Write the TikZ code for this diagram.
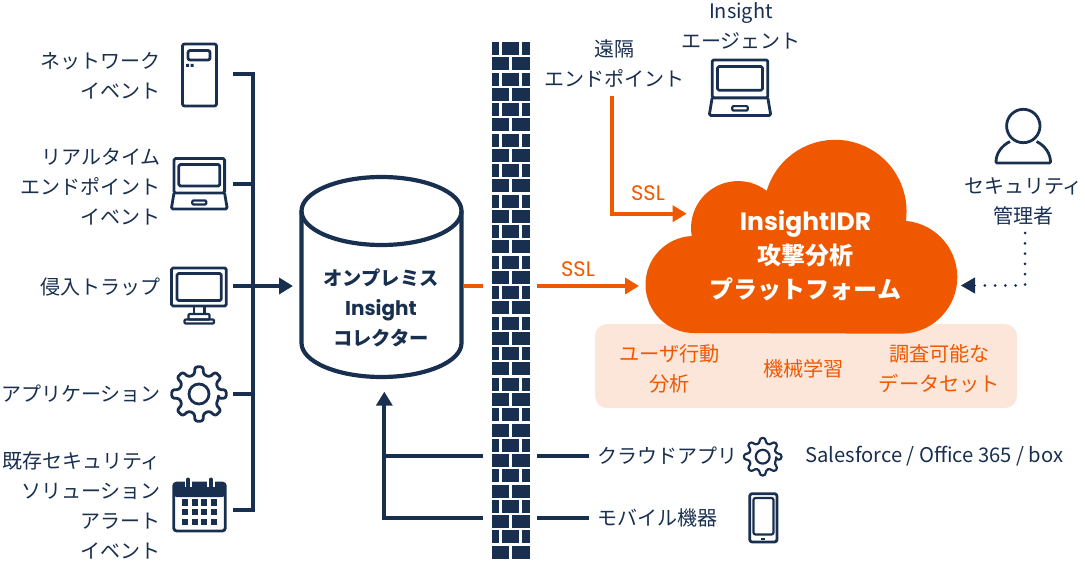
\documentclass[tikz,border=0pt]{standalone}
\usepackage{fontspec}
\usepackage{xcolor}
\usetikzlibrary{arrows.meta}
\setmainfont{Noto Sans CJK JP}
\newfontfamily\latinfont{Poppins}
\definecolor{navy}{HTML}{192F4F}
\definecolor{flame}{HTML}{F05800}
\definecolor{peach}{HTML}{FCE5D9}

\tikzset{
  iconline/.style = {draw=navy, line width=2.8pt, line join=round, rounded corners=1.5pt},
  thinline/.style = {draw=navy, line width=2.2pt, line join=round, rounded corners=1pt},
  wire/.style = {draw=navy, line width=4pt},
  hotwire/.style = {draw=flame, line width=4pt},
  label/.style = {text=navy, inner sep=0pt, align=center, font=\fontsize{20}{30}\selectfont},
  leftlabel/.style = {label, align=right, anchor=east},
  hotlabel/.style = {label, text=flame, font=\fontsize{20.2}{30}\selectfont},
  ssl/.style = {text=flame, inner sep=0pt, font=\latinfont\fontsize{21}{24}\selectfont},
  pics/laptop/.style = {code={
    \draw[iconline] (-25.3,-1.5) rectangle (25.3,-36);
    \draw[iconline] (-20.5,-7.5) rectangle (20.5,-29);
    \draw[iconline] (-25.3,-36) -- (-28,-52) -- (28,-52) -- (25.3,-36);
    \draw[thinline] (-7,-43.5) rectangle (7,-47.5);
  }},
  pics/gear/.style = {code={
    \draw[iconline, rounded corners=2.5pt] (-13:20)
      foreach \a in {0,45,...,315} {
        -- (\a-13:20) -- (\a-8.5:27.5) -- (\a+8.5:27.5) -- (\a+13:20)
      } -- cycle;
    \draw[iconline] (0,0) circle (10);
  }}
}

\begin{document}
\begin{tikzpicture}[x=1pt, y=1pt, >={Triangle[length=14pt,width=16pt]}]
  \useasboundingbox (0,0) rectangle (1085,-580);

  % left column
  \node[leftlabel] (netlabel) at (161,-76) {ネットワーク\\イベント};
  \node[leftlabel] (rtlabel) at (161,-187) {リアルタイム\\エンドポイント\\イベント};
  \node[leftlabel] (traplabel) at (161,-286.5) {侵入トラップ};
  \node[leftlabel] (applabel) at (161,-393.5) {アプリケーション};
  \node[leftlabel] (siemlabel) at (161,-505.5) {既存セキュリティ\\ソリューション\\アラート\\イベント};

  % server
  \draw[iconline, rounded corners=2pt] (182.5,-44) rectangle (216.5,-106);
  \draw[iconline, rounded corners=2pt] (188,-50.5) rectangle (210,-60);
  \fill[navy] (186,-64) rectangle (189,-67) (190.5,-64) rectangle (193.5,-67);
  % laptop
  \pic at (199.3,-157) {laptop};
  % monitor
  \draw[iconline] (171.5,-268) rectangle (226.3,-306);
  \draw[iconline] (177,-273.5) rectangle (221.3,-300.5);
  \draw[thinline] (194,-306) -- (194,-314) (204.5,-306) -- (204.5,-314);
  \draw[thinline] (188.5,-314) rectangle (209.5,-319.5);
  \draw[thinline] (184.5,-319.5) rectangle (214,-323.5);
  % gear
  \pic at (199,-394) {gear};
  % calendar
  \draw[iconline, rounded corners=3pt] (173.7,-483) rectangle (225.3,-531);
  \fill[navy, rounded corners=3pt] (173.7,-483) rectangle (225.3,-497);
  \foreach \cx in {188.3,211} {
    \draw[navy, line width=4pt, line cap=round, preaction={draw=white, line width=7.5pt}]
      (\cx,-479.5) -- (\cx,-487);
  }
  \foreach \cx in {181.7,191.7,201.3,211.3} {
    \foreach \cy in {499.3,509,518.7} {
      \fill[navy] (\cx,-\cy) rectangle +(6,-6.4);
    }
  }

  % bus
  \coordinate (netstub) at (233,-74);
  \coordinate (rtstub) at (233,-184);
  \coordinate (trapstub) at (233,-286);
  \coordinate (appstub) at (233,-394);
  \coordinate (siemstub) at (233,-510);
  \coordinate (bustop) at (252.7,-74);
  \coordinate (busbottom) at (252.7,-510);
  \coordinate (collectorin) at (293,-286);
  \draw[wire] (netstub) -- (bustop) -- (busbottom) -- (siemstub);
  \draw[wire] (rtstub) -- (rtstub -| bustop);
  \draw[wire] (appstub) -- (appstub -| bustop);
  \draw[wire, ->] (trapstub) -- (collectorin);

  % collector
  \draw[draw=navy, line width=4.2pt]
    (301.5,-211) -- (301.5,-343) arc (180:360:80 and 34) -- (461.5,-211);
  \draw[draw=navy, line width=4.2pt] (381.5,-211) ellipse (80 and 34);
  \node[label, font=\bfseries\fontsize{19.3}{30}\selectfont] (collector) at (381,-308)
    {オンプレミス\\{\latinfont\fontsize{20}{30}\selectfont Insight}\\コレクター};

  % wall
  \foreach \r in {0,2,...,32} {
    \fill[navy] (491.7,{-42-15.26*\r}) rectangle (499.3,{-55-15.26*\r});
    \fill[navy] (501.7,{-42-15.26*\r}) rectangle (519.3,{-55-15.26*\r});
    \fill[navy] (522,{-42-15.26*\r}) rectangle (529.7,{-55-15.26*\r});
  }
  \foreach \r in {1,3,...,33} {
    \fill[navy] (491.7,{-42-15.26*\r}) rectangle (509.3,{-55-15.26*\r});
    \fill[navy] (511.7,{-42-15.26*\r}) rectangle (529.7,{-55-15.26*\r});
  }

  % orange links
  \coordinate (collectorout) at (463.5,-286);
  \coordinate (wallin) at (483,-286);
  \coordinate (wallout) at (537,-286);
  \coordinate (cloudin) at (639,-286);
  \coordinate (remotefoot) at (612,-96);
  \coordinate (remotecorner) at (612,-213.7);
  \coordinate (cloudtop) at (686.7,-213.7);
  \draw[hotwire] (collectorout) -- (wallin);
  \draw[hotwire, ->] (wallout) -- (cloudin);
  \draw[hotwire, ->] (remotefoot) -- (remotecorner) -- (cloudtop);
  \node[ssl] (sslone) at (578,-269) {SSL};
  \node[ssl] (ssltwo) at (648,-193) {SSL};

  % top labels
  \node[label] (remotelabel) at (614,-64) {遠隔\\エンドポイント};
  \node[label] (agentlabel) at (741,-26) {Insight\\エージェント};
  \pic[scale=1.1] at (740,-58.3) {laptop};

  % cloud
  \fill[peach, rounded corners=12pt] (595,-324) rectangle (1017,-408);
  \fill[flame] (694,-333)
    arc (270:92.7:48.5) arc (189.8:52.4:47) arc (163.4:-7.8:71.4) arc (84.9:-90:56.5) -- cycle;
  \node[label, text=white, font=\bfseries\fontsize{24}{34}\selectfont] (cloudlabel) at (805.5,-256)
    {{\latinfont\fontsize{25}{34}\selectfont InsightIDR}\\攻撃分析\\プラットフォーム};
  \node[hotlabel] (behavior) at (669.5,-369) {ユーザ行動\\分析};
  \node[hotlabel] (learning) at (803.5,-369) {機械学習};
  \node[hotlabel] (dataset) at (939.5,-369) {調査可能な\\データセット};

  % admin
  \draw[iconline] (1023.3,-126) circle (16.7);
  \draw[iconline, rounded corners=1pt] (1010,-141.5) .. controls (1001,-146) and (996,-154) .. (996,-163)
    -- (1050.5,-163) .. controls (1050.5,-154) and (1045.5,-146) .. (1036.6,-141.5);
  \node[label] (adminlabel) at (1023.5,-201) {セキュリティ\\管理者};
  \coordinate (adminfoot) at (1025,-233);
  \coordinate (admincorner) at (1025,-285.5);
  \coordinate (cloudright) at (961,-285.5);
  \draw[navy, line width=3pt, line cap=round, dash pattern=on 0pt off 10.3pt] (adminfoot) -- (admincorner) -- (975,-285.5);
  \draw[navy, line width=1pt, ->] (975,-285.5) -- (cloudright);

  % bottom links
  \coordinate (cloudapp) at (589,-455.7);
  \coordinate (mobile) at (589,-517.7);
  \coordinate (wallapp) at (536.7,-455.7);
  \coordinate (wallmobile) at (536.7,-517.7);
  \coordinate (innerapp) at (482.7,-455.7);
  \coordinate (innermobile) at (482.7,-517.7);
  \coordinate (upfoot) at (384.3,-517.7);
  \coordinate (uptip) at (384.3,-391.7);
  \draw[wire] (cloudapp) -- (wallapp);
  \draw[wire] (mobile) -- (wallmobile);
  \draw[wire] (innerapp) -- (innerapp -| upfoot);
  \draw[wire, ->] (innermobile) -- (upfoot) -- (uptip);

  \node[label, anchor=west] (applink) at (597,-456) {クラウドアプリ};
  \node[label, anchor=west] (mobilelink) at (597,-517.5) {モバイル機器};
  \pic[scale=0.69, iconline/.append style={line width=2.2pt}] at (762.7,-456.7) {gear};
  \node[label, anchor=west, font=\fontsize{20.2}{30}\selectfont] (saas) at (805,-456) {Salesforce / Office 365 / box};
  % tablet
  \draw[iconline, rounded corners=2.5pt] (749.7,-493.7) rectangle (777,-542);
  \draw[thinline, rounded corners=2pt] (753.5,-498) rectangle (773.5,-534.5);
  \fill[navy] (761.3,-537.7) rectangle (765.3,-539.7);
\end{tikzpicture}
\end{document}
